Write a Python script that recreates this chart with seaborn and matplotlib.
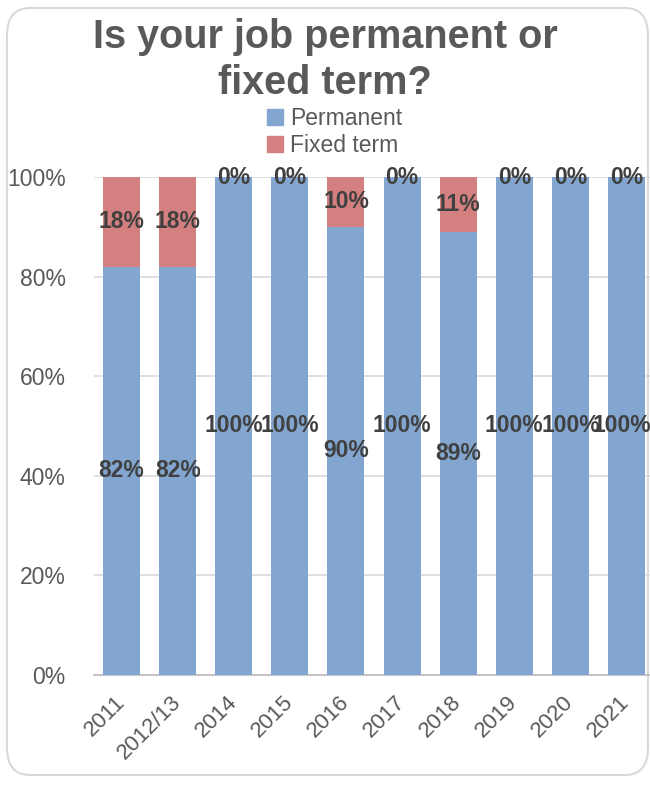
import pandas as pd
import matplotlib.pyplot as plt
from matplotlib.patches import FancyBboxPatch
import seaborn as sns

years = ['2011', '2012/13', '2014', '2015', '2016', '2017', '2018', '2019', '2020', '2021']
permanent = [82, 82, 100, 100, 90, 100, 89, 100, 100, 100]
fixed_term = [18, 18, 0, 0, 10, 0, 11, 0, 0, 0]

df = pd.DataFrame({'Year': years, 'Permanent': permanent, 'Fixed term': fixed_term})
df['Total'] = df['Permanent'] + df['Fixed term']

blue = '#82A6CF'
red = '#D48080'
text_grey = '#595959'
label_grey = '#404040'

sns.set_style('white')
plt.rcParams['font.family'] = ['Liberation Sans', 'DejaVu Sans']

fig = plt.figure(figsize=(6.5, 7.85), dpi=100)

# rounded chart border like the Excel chart area
border = FancyBboxPatch((7 / 650, 10 / 785), 641 / 650, 767 / 785,
                        boxstyle='round,pad=0,rounding_size=0.035',
                        transform=fig.transFigure, facecolor='none',
                        edgecolor='#D9D9D9', linewidth=1.5, zorder=-1)
fig.patches.append(border)

ax = fig.add_axes([93.5 / 650, 110 / 785, 561 / 650, 498 / 785])
ax.patch.set_alpha(0)

# stacked bars: total first (fixed term colour), permanent over it
sns.barplot(data=df, x='Year', y='Total', color=red, width=0.66, saturation=1,
            linewidth=0, ax=ax, zorder=2)
sns.barplot(data=df, x='Year', y='Permanent', color=blue, width=0.66, saturation=1,
            linewidth=0, ax=ax, zorder=3)

ax.set_ylim(0, 100)
ax.set_xlim(-0.5, len(years) - 0.5)
ax.set_yticks([0, 20, 40, 60, 80, 100])
ax.set_yticklabels([f'{v}%' for v in [0, 20, 40, 60, 80, 100]])
ax.set_xlabel('')
ax.set_ylabel('')
ax.grid(True, axis='y', color='#D9D9D9', linewidth=1.2, zorder=0)
ax.set_axisbelow(True)
for s in ['top', 'right', 'left']:
    ax.spines[s].set_visible(False)
ax.spines['bottom'].set_color('#BFBFBF')
ax.spines['bottom'].set_linewidth(1.3)
ax.tick_params(axis='y', length=0, pad=20, labelsize=16.5, labelcolor=text_grey)
ax.tick_params(axis='x', length=0, pad=17, labelsize=16, labelcolor=text_grey)
for lbl in ax.get_xticklabels():
    lbl.set_rotation(45)
    lbl.set_ha('right')
    lbl.set_va('center')
    lbl.set_rotation_mode('anchor')

# data labels in the middle of each segment (last one nudged so it stays inside)
for i, (p, f) in enumerate(zip(permanent, fixed_term)):
    dx = -5 if i == len(years) - 1 else 0
    ax.annotate(f'{p}%', (i, p / 2), xytext=(dx, 0), textcoords='offset pixels',
                ha='center', va='center', fontsize=16.5, fontweight='bold',
                color=label_grey, zorder=5)
    ax.annotate(f'{f}%', (i, p + f / 2), xytext=(0, 0), textcoords='offset pixels',
                ha='center', va='center', fontsize=16.5, fontweight='bold',
                color=label_grey, zorder=5)

fig.text(0.5, 725 / 785, 'Is your job permanent or\nfixed term?', ha='center', va='center',
         fontsize=28.5, fontweight='bold', color=text_grey, linespacing=1.3)

handles = [plt.Rectangle((0, 0), 1, 1, color=blue), plt.Rectangle((0, 0), 1, 1, color=red)]
fig.legend(handles, ['Permanent', 'Fixed term'], loc='center', bbox_to_anchor=(0.515, 653 / 785),
           ncol=1, frameon=False, fontsize=16.5, labelcolor=text_grey,
           handlelength=0.7, handleheight=0.7, handletextpad=0.3, labelspacing=0.15)

fig.savefig('out.png', dpi=100)
